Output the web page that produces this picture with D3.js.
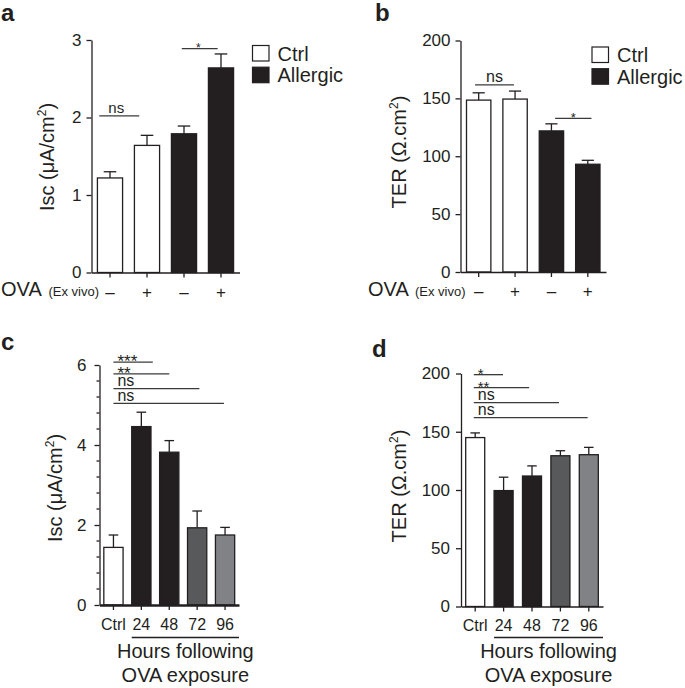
<!DOCTYPE html>
<html><head><meta charset="utf-8">
<script src="https://cdn.jsdelivr.net/npm/d3@7"></script>
<style>
body{margin:0;background:#fff}
svg{display:block}
text{font-family:"Liberation Sans",Arial,Helvetica,sans-serif;fill:#231f20}
</style>
</head><body>
<svg id="chart" width="685" height="688"></svg>
<script>
// ---------- data ----------
const exVivoGroups = ["Ctrl", "Ctrl", "Allergic", "Allergic"];
const exVivoCats = ["Ctrl-", "Ctrl+", "Allergic-", "Allergic+"];
const ovaSigns = ["–", "+", "–", "+"];
const iscExVivo = [1.22, 1.64, 1.79, 2.64];
const iscExVivoErr = [0.08, 0.13, 0.10, 0.18];
const terExVivo = [148.5, 149.4, 121.9, 93.1];
const terExVivoErr = [6.3, 6.9, 6.1, 3.4];

const timeCats = ["Ctrl", "24", "48", "72", "96"];
const iscTime = [1.44, 4.46, 3.82, 1.93, 1.75];
const iscTimeErr = [0.31, 0.36, 0.29, 0.42, 0.19];
const terTime = [145, 99.5, 112, 129.4, 130.3];
const terTimeErr = [4, 11.5, 8.7, 4.3, 6.3];

const iscTicks = [0, 1, 2, 3];
const terTicks = [0, 50, 100, 150, 200];
const iscTimeTicks = [0, 2, 4, 6];

const legendLabels = ["Ctrl", "Allergic"];

// significance brackets: from/to in category-step units from first bar centre
const sigA = [{from: -0.29, to: 0.79, level: 2.02, label: "ns"}, {from: 1.94, to: 2.91, level: 2.89, label: "*"}];
const sigB = [{from: -0.1, to: 0.97, level: 161.6, label: "ns"}, {from: 2.1, to: 3.1, level: 132.8, label: "*"}];
const sigC = [{from: 0, to: 1.41, level: 6.07, label: "***"}, {from: 0, to: 2.0, level: 5.78, label: "**"},
              {from: 0, to: 3.08, level: 5.41, label: "ns"}, {from: 0, to: 3.96, level: 5.04, label: "ns"}];
const sigD = [{from: -0.05, to: 0.98, level: 199, label: "*"}, {from: -0.05, to: 1.9, level: 187.9, label: "**"},
              {from: -0.05, to: 2.95, level: 175, label: "ns"}, {from: -0.05, to: 3.96, level: 162.1, label: "ns"}];

// ---------- drawing ----------
const svg = d3.select("#chart");
const INK = "#231f20";
const exColor = d3.scaleOrdinal(["Ctrl", "Allergic"], ["#ffffff", INK]);
const timeColor = d3.scaleOrdinal(timeCats, ["#ffffff", INK, INK, "#58595b", "#808285"]);

function panel(o) {
  const g = svg.append("g");
  const x = d3.scaleBand().domain(o.cats).range(o.xRange).paddingInner(o.pi).paddingOuter(o.po);
  const y = d3.scaleLinear().domain(o.yDomain).range(o.yRange);
  const bw = x.bandwidth();
  const c0 = x(o.cats[0]) + bw / 2;
  const at = f => c0 + f * x.step();

  // bars
  g.selectAll("rect.bar").data(o.values).join("rect")
    .attr("x", (d, i) => x(o.cats[i]))
    .attr("y", d => y(d))
    .attr("width", bw)
    .attr("height", d => y(0) - y(d))
    .attr("fill", (d, i) => o.color(i))
    .attr("stroke", INK).attr("stroke-width", 1.3);

  // error bars (upper only)
  const eb = g.selectAll("g.eb").data(o.values).join("g");
  eb.append("line")
    .attr("x1", (d, i) => x(o.cats[i]) + bw / 2).attr("x2", (d, i) => x(o.cats[i]) + bw / 2)
    .attr("y1", d => y(d)).attr("y2", (d, i) => y(d + o.errs[i]))
    .attr("stroke", INK).attr("stroke-width", 1.3);
  eb.append("line")
    .attr("x1", (d, i) => x(o.cats[i]) + bw / 2 - bw * 0.25).attr("x2", (d, i) => x(o.cats[i]) + bw / 2 + bw * 0.25)
    .attr("y1", (d, i) => y(d + o.errs[i])).attr("y2", (d, i) => y(d + o.errs[i]))
    .attr("stroke", INK).attr("stroke-width", 1.3);

  // y axis
  const ya = g.append("g").attr("transform", `translate(${o.xRange[0]},0)`)
    .call(d3.axisLeft(y).tickValues(o.ticks).tickSize(5).tickSizeOuter(0).tickPadding(o.yPad).tickFormat(d3.format("d")));
  if (o.minor) {
    ya.selectAll("line.minor").data(o.minor).join("line").attr("class", "minor")
      .attr("x1", -3).attr("x2", 0).attr("y1", d => y(d)).attr("y2", d => y(d))
      .attr("stroke", INK).attr("stroke-width", 1.2);
  }
  ya.selectAll("text").attr("font-size", 17).style("fill", INK);
  ya.selectAll("line,path").attr("stroke", INK).attr("stroke-width", 1.3);
  ya.attr("font-family", null);

  // x axis
  const xa = g.append("g").attr("transform", `translate(0,${o.yRange[0]})`)
    .call(d3.axisBottom(x).tickSize(5).tickSizeOuter(0).tickPadding(o.xPad).tickFormat((d, i) => o.xLabels[i]));
  xa.selectAll("text").attr("font-size", o.xFont).style("fill", INK);
  xa.selectAll("line").attr("stroke", INK).attr("stroke-width", 1.3);
  xa.select("path.domain").attr("stroke", INK).attr("stroke-width", o.xAxisW || 1.3);
  xa.attr("font-family", null);

  // y label
  const yl = g.append("text")
    .attr("transform", `translate(${o.ylabX},${o.ylabY}) rotate(-90)`)
    .attr("text-anchor", "middle").attr("font-size", 20);
  yl.append("tspan").text(o.ylab[0]);
  yl.append("tspan").text("2").attr("font-size", 12).attr("dy", -8);
  yl.append("tspan").text(")").attr("dy", 8);

  // significance
  o.sig.forEach(s => {
    const x1 = at(s.from), x2 = at(s.to), yy = y(s.level);
    g.append("line").attr("x1", x1).attr("x2", x2).attr("y1", yy).attr("y2", yy)
      .attr("stroke", "#3a3a3a").attr("stroke-width", 1.3);
    const star = s.label.indexOf("*") >= 0;
    const fs = star ? o.starFont : o.nsFont;
    const t = g.append("text").text(s.label).attr("font-size", fs)
      .attr("y", star ? yy - 2 + 0.42 * fs : yy - 2.5);
    if (o.sigAnchor === "start") t.attr("x", x1 + 4).attr("text-anchor", "start");
    else t.attr("x", (x1 + x2) / 2 + (o.sigShift || 0) * (star ? 0.5 : 1)).attr("text-anchor", "middle");
  });
  return {g, x, y};
}

// panel a
const pa = panel({
  cats: exVivoCats, values: iscExVivo, errs: iscExVivoErr, color: i => exColor(exVivoGroups[i]),
  xRange: [91.5, 239.5], pi: 0.32, po: 0.16, yDomain: [0, 3], yRange: [272.5, 40],
  ticks: iscTicks, yPad: 5, xPad: 8, xLabels: ovaSigns, xFont: 17,
  ylab: ["Isc (μA/cm"], ylabX: 53.5, ylabY: 157,
  sig: sigA, nsFont: 15, starFont: 12, sigShift: -3
});
// panel b
const pb = panel({
  cats: exVivoCats, values: terExVivo, errs: terExVivoErr, color: i => exColor(exVivoGroups[i]),
  xRange: [460.5, 606], pi: 0.33, po: 0.165, yDomain: [0, 200], yRange: [272, 40.5],
  ticks: terTicks, yPad: 5, xPad: 8, xLabels: ovaSigns, xFont: 17,
  ylab: ["TER (Ω.cm"], ylabX: 405.5, ylabY: 152,
  sig: sigB, nsFont: 16, starFont: 13
});
// panel c
const minorC = d3.range(1, 15).map(k => +(k * 0.4).toFixed(1)).filter(v => v % 2 !== 0);
const pc = panel({
  cats: timeCats, values: iscTime, errs: iscTimeErr, color: i => timeColor(timeCats[i]),
  xRange: [99.5, 239], pi: 0.31, po: 0.155, yDomain: [0, 6], yRange: [605, 365],
  ticks: iscTimeTicks, minor: minorC, yPad: 8, xPad: 8.5, xLabels: timeCats, xFont: 16, xAxisW: 2.6,
  ylab: ["Isc (μA/cm"], ylabX: 61.5, ylabY: 488,
  sig: sigC, nsFont: 16, starFont: 17, sigAnchor: "start"
});
// panel d
const pd = panel({
  cats: timeCats, values: terTime, errs: terTimeErr, color: i => timeColor(timeCats[i]),
  xRange: [461, 603], pi: 0.33, po: 0.165, yDomain: [0, 200], yRange: [606.5, 373.5],
  ticks: terTicks, yPad: 6, xPad: 8.5, xLabels: timeCats, xFont: 16, xAxisW: 1.6,
  ylab: ["TER (Ω.cm"], ylabX: 406, ylabY: 486,
  sig: sigD, nsFont: 16, starFont: 15, sigAnchor: "start"
});

// OVA (Ex vivo) row labels
[[1, 296, 48.5], [368, 296, 415]].forEach(([xo, yb, xe]) => {
  svg.append("text").attr("x", xo).attr("y", yb).attr("font-size", 20).text("OVA");
  svg.append("text").attr("x", xe).attr("y", yb).attr("font-size", 13).text("(Ex vivo)");
});

// legends
[[252.5, 45.5, 277.5, 60.5], [592, 47, 617, 62]].forEach(([bx, by, tx, ty]) => {
  legendLabels.forEach((lab, i) => {
    svg.append("rect").attr("x", bx).attr("y", by + i * 21.7).attr("width", 16.5).attr("height", 15.5)
      .attr("fill", exColor(lab)).attr("stroke", INK).attr("stroke-width", 1.2);
    svg.append("text").attr("x", tx).attr("y", ty + i * 21.7).attr("font-size", 20).text(lab);
  });
});

// "Hours following OVA exposure"
[pc, pd].forEach(p => {
  const x1 = p.x(timeCats[1]), x2 = p.x.range()[1];
  svg.append("line").attr("x1", x1).attr("x2", x2).attr("y1", 637.5).attr("y2", 637.5)
    .attr("stroke", INK).attr("stroke-width", 1.3);
  const mid = (x1 + x2) / 2;
  svg.append("text").attr("x", mid).attr("y", 658).attr("text-anchor", "middle").attr("font-size", 20).text("Hours following");
  svg.append("text").attr("x", mid).attr("y", 681.5).attr("text-anchor", "middle").attr("font-size", 20).text("OVA exposure");
});

// panel letters
[["a", 1, 21], ["b", 375, 21], ["c", 1, 350], ["d", 372, 357]].forEach(([t, x, y]) => {
  svg.append("text").attr("x", x).attr("y", y).attr("font-size", 24).attr("font-weight", "bold").text(t);
});
</script>
</body></html>
